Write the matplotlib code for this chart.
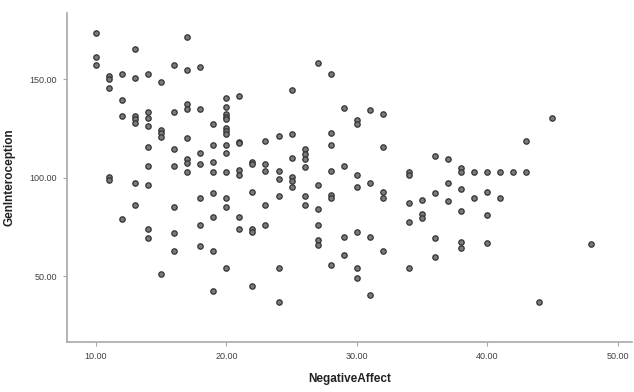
import matplotlib.pyplot as plt

plt.rcParams["font.family"] = ["Liberation Sans", "DejaVu Sans"]

# NegativeAffect scores (x) and GenInteroception scores (y)
negative_affect = (
    [10] * 3 + [11] * 5 + [12] * 4 + [13] * 7 + [14] * 9 + [15] * 5 + [16] * 7
    + [17] * 8 + [18] * 7 + [19] * 8 + [20] * 14 + [21] * 7 + [22] * 6 + [23] * 5
    + [24] * 6 + [25] * 6 + [26] * 6 + [27] * 6 + [28] * 7 + [29] * 4 + [30] * 7
    + [31] * 4 + [32] * 5 + [34] * 5 + [35] * 3 + [36] * 4 + [37] * 3 + [38] * 6
    + [39] * 2 + [40] * 4 + [41] * 2 + [42] * 1 + [43] * 2 + [44] * 1 + [45] * 1
    + [48] * 1
)
gen_interoception = [
    173.2, 161.3, 157.3,
    151.5, 150.0, 145.3, 100.4, 98.7,
    152.5, 139.3, 131.4, 78.9,
    165.2, 150.3, 131.4, 129.6, 127.8, 97.1, 86.0,
    152.5, 133.4, 130.4, 126.1, 115.3, 106.0, 96.2, 73.7, 69.1,
    148.3, 124.1, 122.4, 120.7, 51.0,
    157.3, 133.4, 114.3, 106.0, 85.2, 72.0, 62.8,
    171.3, 154.4, 137.2, 134.6, 119.9, 109.2, 107.2, 103.0,
    156.3, 134.6, 112.3, 106.9, 89.8, 75.9, 65.2,
    127.2, 116.3, 108.0, 103.0, 92.0, 80.1, 62.8, 42.5,
    140.2, 135.9, 132.1, 130.9, 129.5, 125.3, 123.6, 122.1, 116.3, 112.3, 103.0, 89.8, 85.2, 53.9,
    141.2, 118.2, 117.4, 103.8, 101.3, 80.1, 73.7,
    108.0, 106.9, 92.8, 73.7, 72.5, 44.9,
    118.4, 106.9, 103.3, 86.0, 75.9,
    121.1, 103.3, 99.2, 90.6, 53.9, 36.6,
    144.3, 121.9, 110.1, 100.4, 98.4, 95.0,
    114.3, 111.9, 109.2, 105.5, 90.6, 86.0,
    158.3, 96.2, 84.0, 75.9, 68.3, 65.7,
    152.4, 122.8, 116.3, 103.3, 91.1, 89.8, 55.6,
    135.4, 105.8, 70.0, 60.7,
    129.2, 127.2, 101.3, 95.0, 72.5, 53.9, 48.8,
    134.3, 97.1, 70.0, 40.4,
    132.2, 115.3, 92.8, 89.4, 62.8,
    103.0, 101.3, 86.9, 77.6, 53.9,
    88.8, 81.4, 79.5,
    111.1, 92.0, 69.1, 59.8,
    109.2, 97.1, 88.1,
    104.7, 103.0, 94.0, 83.0, 67.4, 64.1,
    103.0, 89.8,
    103.0, 92.8, 81.0, 66.9,
    103.0, 89.8,
    103.0,
    118.4, 103.0,
    36.7,
    130.2,
    66.1,
]

x_ticks = [10, 20, 30, 40, 50]
y_ticks = [50, 100, 150]

fig = plt.figure(figsize=(6.34, 3.92), dpi=100)
ax = fig.add_axes([0.1057, 0.1276, 0.891, 0.839])

ax.scatter(negative_affect, gen_interoception, s=15, marker="o",
           facecolor="#7a7a7a", edgecolor="#333333", linewidth=0.9, zorder=3)

ax.set_xlim(7.78, 51.1)
ax.set_ylim(16.5, 183.5)
ax.set_xticks(x_ticks)
ax.set_yticks(y_ticks)
ax.set_xticklabels([f"{v:.2f}" for v in x_ticks])
ax.set_yticklabels([f"{v:.2f}" for v in y_ticks])

for side in ("top", "right"):
    ax.spines[side].set_visible(False)
for side in ("left", "bottom"):
    ax.spines[side].set_color("#a8a8a8")
    ax.spines[side].set_linewidth(1.2)

ax.tick_params(direction="out", length=3, width=0.8, color="#a8a8a8",
               labelsize=6.5, labelcolor="#404040", pad=4)

ax.set_xlabel("NegativeAffect", fontsize=8.5, fontweight="bold", color="#222222", labelpad=9)
ax.set_ylabel("GenInteroception", fontsize=8.5, fontweight="bold", color="#222222", labelpad=10)

fig.savefig("out.png", dpi=100)
